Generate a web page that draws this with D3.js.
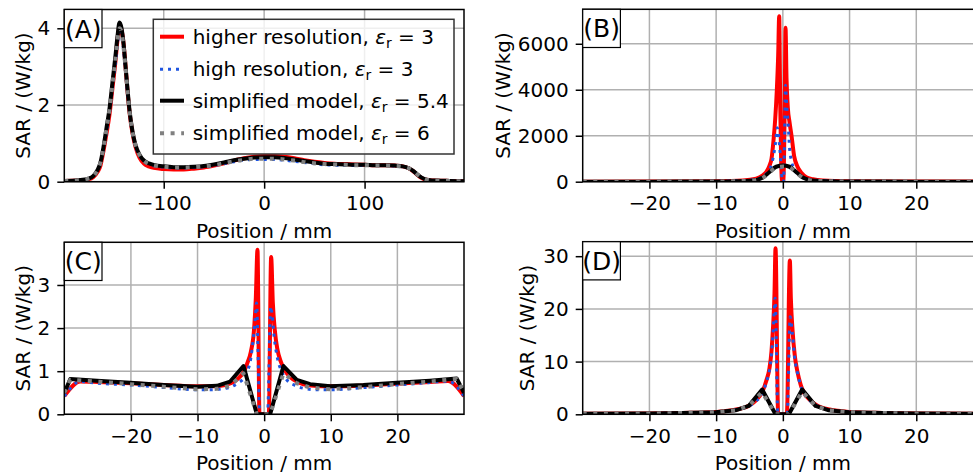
<!DOCTYPE html>
<html><head><meta charset="utf-8">
<script src="https://cdn.jsdelivr.net/npm/d3@7"></script>
<style>
html,body{margin:0;padding:0;background:#fff;}
svg{display:block;font-family:"DejaVu Sans",sans-serif;}
</style></head><body><svg id="chart" width="973" height="475"></svg>
<script>
// ---------------- DATA ----------------
const seriesNames = ["higher resolution", "high resolution", "simplified model", "simplified model"];
const epsValues = ["3", "3", "5.4", "6"];
const panelLabels = ["(A)", "(B)", "(C)", "(D)"];
const xLabel = "Position / mm";
const yLabel = "SAR / (W/kg)";

// Panel A
const aTicksX = [-100, 0, 100];
const aTicksY = [0, 2, 4];
const aX = [-199,-185,-175,-170,-166,-163,-160,-157,-154,-151,-148,-146,-144,-142,-140,-138,-136,-134,-131,-128,-124,-120,-115,-110,-100,-90,-80,-70,-60,-50,-40,-30,-20,-10,0,10,20,30,40,50,60,70,80,90,100,110,120,130,138,144,148,152,156,160,165,172,185,199];
const aRed = [0.02,0.03,0.06,0.12,0.25,0.42,0.8,1.25,1.75,2.45,3.15,3.7,4.05,3.95,3.6,3.0,2.35,1.8,1.25,0.9,0.62,0.48,0.4,0.36,0.33,0.32,0.32,0.34,0.37,0.42,0.48,0.55,0.61,0.65,0.67,0.67,0.65,0.61,0.56,0.52,0.49,0.47,0.46,0.45,0.44,0.43,0.43,0.42,0.4,0.35,0.28,0.19,0.11,0.06,0.04,0.03,0.02,0.01];
const aBlue = [0.02,0.04,0.08,0.15,0.29,0.48,0.85,1.3,1.8,2.45,3.1,3.6,3.9,3.8,3.45,2.9,2.3,1.8,1.25,0.92,0.68,0.54,0.46,0.42,0.38,0.36,0.36,0.37,0.39,0.42,0.47,0.52,0.56,0.58,0.58,0.58,0.56,0.53,0.5,0.47,0.44,0.43,0.42,0.42,0.42,0.42,0.42,0.41,0.39,0.35,0.28,0.2,0.12,0.07,0.04,0.03,0.02,0.01];
const aBlack = [0.02,0.04,0.08,0.15,0.3,0.5,0.9,1.4,1.9,2.6,3.3,3.8,4.15,4.0,3.6,3.0,2.4,1.85,1.3,0.95,0.7,0.56,0.48,0.44,0.4,0.38,0.38,0.39,0.41,0.45,0.5,0.56,0.6,0.63,0.64,0.64,0.62,0.58,0.54,0.5,0.47,0.46,0.45,0.44,0.44,0.43,0.43,0.42,0.4,0.35,0.29,0.2,0.12,0.07,0.04,0.03,0.02,0.01];
const aGray = [0.02,0.04,0.08,0.15,0.3,0.5,0.88,1.38,1.88,2.55,3.2,3.7,4.0,3.9,3.5,2.95,2.35,1.82,1.28,0.94,0.69,0.55,0.47,0.43,0.39,0.37,0.37,0.38,0.4,0.43,0.48,0.53,0.57,0.6,0.6,0.6,0.58,0.55,0.51,0.48,0.46,0.45,0.44,0.43,0.43,0.42,0.42,0.41,0.39,0.35,0.29,0.2,0.12,0.07,0.04,0.03,0.02,0.01];

// Panel B
const bTicksX = [-20, -10, 0, 10, 20];
const bTicksY = [0, 2000, 4000, 6000];
const bRedX = [-30,-20,-10,-6,-4,-3,-2.5,-2,-1.7,-1.4,-1.15,-0.9,-0.7,-0.55,-0.4,-0.25,-0.1,0.05,0.2,0.3,0.4,0.55,0.75,1.0,1.3,1.7,2.2,2.8,3.5,4.5,6,10,20,30];
const bRedY = [3,5,20,50,130,280,420,700,1000,1800,2700,4000,5500,7200,3500,800,0,0,1500,4000,6700,4500,3200,2600,2000,1100,650,380,200,110,55,20,5,3];
const bBlueX = [-30,-20,-10,-6,-4,-3,-2.5,-2,-1.6,-1.3,-1.05,-0.85,-0.5,-0.2,-0.05,0.1,0.25,0.4,0.6,0.8,1.0,1.3,1.7,2.2,3,4,6,10,20,30];
const bBlueY = [3,5,18,45,110,220,330,520,850,1300,1800,2350,1600,400,0,0,1800,4200,3200,2500,1500,900,550,330,180,100,45,18,5,3];
const bSimpX = [-30,-20,-10,-7,-5,-4,-3,-2,-1,0,1,2,3,4,5,7,10,20,30];
const bBlackY = [1,3,10,20,40,70,180,420,650,700,650,420,180,70,40,20,10,3,1];
const bGrayY = [1,3,10,20,40,70,170,400,620,660,620,400,170,70,40,20,10,3,1];

// Panel C
const cTicksX = [-20, -10, 0, 10, 20];
const cTicksY = [0, 1, 2, 3];
const cRedX = [-30,-27.6,-25,-20,-15,-10,-7,-5,-4,-3,-2.5,-2,-1.5,-1.25,-1.0,-0.7,0.7,1.05,1.3,1.6,2,2.5,3,4,5,7,10,15,20,25,27.6,30];
const cRedY = [0.42,0.76,0.75,0.72,0.68,0.65,0.65,0.72,0.82,1.0,1.2,1.45,2.0,2.7,3.82,0,0,3.65,2.6,1.95,1.5,1.22,1.05,0.85,0.75,0.67,0.65,0.67,0.71,0.75,0.77,0.42];
const cBlueX = [-30,-27.6,-25,-20,-15,-10,-8,-6,-5,-4,-3,-2.5,-2,-1.6,-1.3,-1.15,-0.65,0.5,1.0,1.2,1.5,2,2.6,3.5,4.5,6,8,10,15,20,25,27.6,30];
const cBlueY = [0.42,0.76,0.72,0.68,0.62,0.57,0.57,0.6,0.63,0.72,0.85,1.0,1.3,1.8,2.3,2.58,0,0,2.5,2.3,1.8,1.3,1.0,0.78,0.68,0.6,0.57,0.57,0.62,0.68,0.74,0.77,0.42];
const cSimpX = [-30,-29.1,-25.1,-20.1,-15.1,-10.1,-7.1,-5.1,-3.1,-1.1,0.9,2.9,4.9,6.9,9.9,14.9,19.9,24.9,28.9,30];
const cBlackY = [0.5,0.82,0.78,0.73,0.68,0.64,0.66,0.76,1.12,0,0,1.12,0.8,0.7,0.65,0.68,0.73,0.78,0.83,0.5];
const cGrayY = [0.5,0.8,0.76,0.7,0.64,0.58,0.59,0.66,0.95,0,0,0.95,0.72,0.62,0.58,0.63,0.7,0.76,0.82,0.5];

// Panel D
const dTicksX = [-20, -10, 0, 10, 20];
const dTicksY = [0, 10, 20, 30];
const dRedX = [-30,-20,-15,-10,-7,-5,-4,-3,-2.5,-2,-1.7,-1.45,-1.25,-1.1,-0.7,0.6,1.05,1.2,1.45,1.8,2.2,2.7,3.2,4,5,7,10,15,20,30];
const dRedY = [0.1,0.15,0.25,0.45,0.9,1.7,2.7,4.5,6.3,8.8,12,17,23,31.5,0,0,29.2,22,16,11,8,5.5,4,2.8,1.8,0.9,0.45,0.25,0.15,0.1];
const dBlueX = [-30,-20,-15,-10,-7,-5,-4,-3,-2.5,-2,-1.7,-1.45,-1.15,-0.75,0.65,1.1,1.45,1.8,2.2,2.7,3.2,4,5,7,10,15,20,30];
const dBlueY = [0.1,0.15,0.25,0.45,0.9,1.6,2.5,4.2,6.0,8.5,11.5,16,22,0,0,18.5,15,10.5,7.8,5.3,3.9,2.7,1.7,0.85,0.42,0.25,0.15,0.1];
const dSimpX = [-30,-20.1,-15.1,-10.1,-7.1,-5.1,-3.1,-1.1,0.9,2.9,4.9,6.9,9.9,14.9,19.9,30];
const dBlackY = [0.1,0.15,0.25,0.4,0.75,1.6,4.7,0,0,4.7,1.6,0.75,0.4,0.25,0.15,0.1];
const dGrayY = [0.1,0.15,0.25,0.4,0.75,1.6,4.2,0,0,4.3,1.6,0.75,0.4,0.25,0.15,0.1];

// ---------------- STYLE / LAYOUT ----------------
const styles = [
  {color:"#ff0000", width:4, dash:null},
  {color:"#1f55e0", width:3, dash:"3,5"},
  {color:"#000000", width:4, dash:null},
  {color:"#808080", width:4, dash:"4,6.6"}
];
const FS = 20;
const fmt = d3.format("d");

const panels = [
  {left:64.3, top:9.5, w:399.7, h:172.2, xd:[-199,199], yd:[0,4.49], xt:aTicksX, yt:aTicksY, ylOff:41, smooth:[true,true,true,true],
   data:[[aX,aRed],[aX,aBlue],[aX,aBlack],[aX,aGray]]},
  {left:582.7, top:9.3, w:400.3, h:172.4, xd:[-30,30], yd:[0,7500], xt:bTicksX, yt:bTicksY, ylOff:79.4, smooth:[true,true,true,true],
   data:[[bRedX,bRedY],[bBlueX,bBlueY],[bSimpX,bBlackY],[bSimpX,bGrayY]]},
  {left:64.3, top:242.3, w:399.7, h:172, xd:[-30,30], yd:[0,3.99], xt:cTicksX, yt:cTicksY, ylOff:41, smooth:[true,true,false,false],
   data:[[cRedX,cRedY],[cBlueX,cBlueY],[cSimpX,cBlackY],[cSimpX,cGrayY]]},
  {left:582.7, top:241.7, w:400.3, h:172.6, xd:[-30,30], yd:[0,32.75], xt:dTicksX, yt:dTicksY, ylOff:56, smooth:[true,true,false,false],
   data:[[dRedX,dRedY],[dBlueX,dBlueY],[dSimpX,dBlackY],[dSimpX,dGrayY]]}
];

const svg = d3.select("#chart");
svg.append("rect").attr("width",973).attr("height",475).attr("fill","#fff");
const defs = svg.append("defs");

panels.forEach((p, i) => {
  const x = d3.scaleLinear().domain(p.xd).range([0, p.w]);
  const y = d3.scaleLinear().domain(p.yd).range([p.h, 0]);
  const g = svg.append("g").attr("transform", `translate(${p.left},${p.top})`);

  defs.append("clipPath").attr("id", "clip" + i)
    .append("rect").attr("x", 0).attr("y", 0).attr("width", p.w).attr("height", p.h);

  // grid
  const grid = g.append("g");
  grid.selectAll(".gx").data(p.xt).enter().append("line")
    .attr("x1", d => x(d)).attr("x2", d => x(d)).attr("y1", 0).attr("y2", p.h)
    .attr("stroke", "#b0b0b0").attr("stroke-width", 1.5);
  grid.selectAll(".gy").data(p.yt).enter().append("line")
    .attr("y1", d => y(d)).attr("y2", d => y(d)).attr("x1", 0).attr("x2", p.w)
    .attr("stroke", "#b0b0b0").attr("stroke-width", 1.5);

  // lines
  const plot = g.append("g").attr("clip-path", `url(#clip${i})`);
  p.data.forEach((s, k) => {
    const pts = s[0].map((xv, j) => [xv, s[1][j]]);
    const line = d3.line().x(d => x(d[0])).y(d => y(d[1]))
      .curve(p.smooth[k] ? d3.curveMonotoneX : d3.curveLinear);
    const st = styles[k];
    plot.append("path").attr("d", line(pts)).attr("fill", "none")
      .attr("stroke", st.color).attr("stroke-width", st.width)
      .attr("stroke-linejoin", "round")
      .attr("stroke-dasharray", st.dash);
  });

  // axes
  const xa = g.append("g").attr("transform", `translate(0,${p.h})`)
    .call(d3.axisBottom(x).tickValues(p.xt).tickFormat(fmt).tickSize(7).tickPadding(7.5));
  const ya = g.append("g")
    .call(d3.axisLeft(y).tickValues(p.yt).tickFormat(fmt).tickSize(7).tickPadding(7));
  [xa, ya].forEach(a => {
    a.select(".domain").remove();
    a.selectAll(".tick line").attr("stroke", "#000").attr("stroke-width", 1.5);
    a.selectAll(".tick text").attr("fill", "#000").style("font-size", FS + "px")
      .style("font-family", '"DejaVu Sans", sans-serif');
  });

  // spines
  g.append("rect").attr("x", 0).attr("y", 0).attr("width", p.w).attr("height", p.h)
    .attr("fill", "none").attr("stroke", "#000").attr("stroke-width", 1.5);

  // axis labels
  g.append("text").attr("x", p.w / 2).attr("y", p.h + 56)
    .attr("text-anchor", "middle").style("font-size", FS + "px").text(xLabel);
  g.append("text").attr("transform", `translate(${-p.ylOff},${p.h / 2}) rotate(-90)`)
    .attr("text-anchor", "middle").attr("dy", "0.35em").style("font-size", FS + "px").text(yLabel);

  // panel label
  g.append("rect").attr("x", 0).attr("y", 0).attr("width", 37.7).attr("height", 38.2)
    .attr("fill", "#fff").attr("stroke", "#000").attr("stroke-width", 1.2);
  g.append("text").attr("x", 18.9).attr("y", 19.1).attr("dy", "0.36em")
    .attr("text-anchor", "middle").style("font-size", "25px").text(panelLabels[i]);

  // legend in panel A
  if (i === 0) {
    const lg = svg.append("g");
    lg.append("rect").attr("x", 153.3).attr("y", 19.3).attr("width", 300.7).attr("height", 134.7)
      .attr("fill", "#fff").attr("fill-opacity", 0.8).attr("stroke", "#333").attr("stroke-width", 1.5);
    const rowsY = [36.7, 69.3, 100.7, 133.3];
    seriesNames.forEach((name, k) => {
      const st = styles[k];
      lg.append("line").attr("x1", 160).attr("x2", 184).attr("y1", rowsY[k]).attr("y2", rowsY[k])
        .attr("stroke", st.color).attr("stroke-width", st.width).attr("stroke-dasharray", st.dash);
      const t = lg.append("text").attr("x", 192.7).attr("y", rowsY[k] + 7).style("font-size", FS + "px");
      t.append("tspan").text(name + ", ");
      t.append("tspan").style("font-style", "italic").text("ε");
      t.append("tspan").attr("dy", 4).style("font-size", "14px").text("r");
      t.append("tspan").attr("dy", -4).text(" = " + epsValues[k]);
    });
  }
});
</script></body></html>
